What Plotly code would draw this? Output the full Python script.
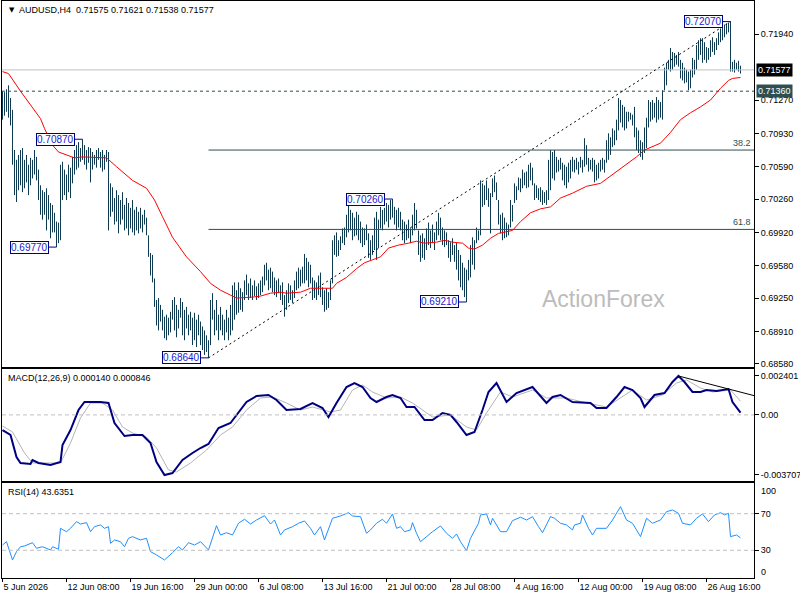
import plotly.graph_objects as go

symbol = "AUDUSD,H4"
last_ohlc = ["0.71575", "0.71621", "0.71538", "0.71577"]
last_close = 0.71577
level_price = 0.71360

# H4 bars, high / low
bar_high = [
    0.7136, 0.7135, 0.7138, 0.7142, 0.7129, 0.7117, 0.7076, 0.7066, 0.7071, 0.7076,
    0.7078, 0.7066, 0.7071, 0.7061, 0.7068, 0.7066, 0.7076, 0.7069, 0.7056, 0.7040,
    0.7035, 0.7033, 0.7037, 0.7030, 0.7022, 0.7020, 0.7012, 0.7003, 0.7002, 0.7061,
    0.7064, 0.7056, 0.7051, 0.7061, 0.7058, 0.7069, 0.7076, 0.7081, 0.7084, 0.7078,
    0.7087, 0.7081, 0.7076, 0.7079, 0.7078, 0.7074, 0.7071, 0.7076, 0.7078, 0.7074,
    0.7076, 0.7071, 0.7076, 0.7074, 0.7042, 0.7038, 0.7027, 0.7035, 0.7030, 0.7025,
    0.7033, 0.7020, 0.7027, 0.7022, 0.7017, 0.7025, 0.7015, 0.7018, 0.7013, 0.7017,
    0.7010, 0.7015, 0.7007, 0.6989, 0.6971, 0.6969, 0.6945, 0.6923, 0.6925, 0.6918,
    0.6913, 0.6906, 0.6908, 0.6905, 0.6911, 0.6923, 0.6926, 0.6918, 0.6913, 0.6925,
    0.6921, 0.6913, 0.6916, 0.6908, 0.6911, 0.6905, 0.6910, 0.6903, 0.6908, 0.6901,
    0.6896, 0.6892, 0.6887, 0.6882, 0.6923, 0.6930, 0.6913, 0.6923, 0.6908, 0.6916,
    0.6908, 0.6903, 0.6913, 0.6905, 0.6918, 0.6938, 0.6941, 0.6933, 0.6941, 0.6935,
    0.6931, 0.6943, 0.6949, 0.6940, 0.6945, 0.6938, 0.6943, 0.6937, 0.6940, 0.6943,
    0.6947, 0.6959, 0.6961, 0.6954, 0.6956, 0.6952, 0.6946, 0.6943, 0.6945, 0.6938,
    0.6941, 0.6928, 0.6933, 0.6940, 0.6938, 0.6933, 0.6943, 0.6952, 0.6956, 0.6954,
    0.6957, 0.6970, 0.6966, 0.6962, 0.6959, 0.6946, 0.6943, 0.6941, 0.6948, 0.6951,
    0.6936, 0.6933, 0.6935, 0.6931, 0.6943, 0.6984, 0.6989, 0.6992, 0.6984, 0.6988,
    0.6996, 0.6997, 0.7010, 0.7022, 0.7015, 0.7012, 0.7007, 0.7013, 0.7010, 0.7003,
    0.6997, 0.6996, 0.7000, 0.6991, 0.6984, 0.6989, 0.7007, 0.7013, 0.7005, 0.7018,
    0.7015, 0.7017, 0.7022, 0.7020, 0.7025, 0.7026, 0.7018, 0.7015, 0.7017, 0.7013,
    0.7005, 0.7003, 0.7000, 0.7005, 0.6996, 0.7010, 0.7022, 0.7015, 0.6994, 0.6989,
    0.6991, 0.6986, 0.6996, 0.7002, 0.6994, 0.7000, 0.6992, 0.7003, 0.7012, 0.7007,
    0.6997, 0.6994, 0.6992, 0.6984, 0.6982, 0.6986, 0.6979, 0.6981, 0.6974, 0.6969,
    0.6961, 0.6956, 0.6954, 0.6964, 0.6979, 0.6987, 0.6984, 0.6997, 0.6994, 0.7045,
    0.7042, 0.7040, 0.7045, 0.7037, 0.7032, 0.7047, 0.7050, 0.7043, 0.7025, 0.7010,
    0.7012, 0.7007, 0.7002, 0.7000, 0.7025, 0.7020, 0.7042, 0.7039, 0.7048, 0.7047,
    0.7056, 0.7053, 0.7054, 0.7061, 0.7063, 0.7058, 0.7042, 0.7040, 0.7037, 0.7038,
    0.7035, 0.7033, 0.7035, 0.7066, 0.7076, 0.7074, 0.7076, 0.7069, 0.7066, 0.7068,
    0.7063, 0.7061, 0.7059, 0.7063, 0.7066, 0.7069, 0.7066, 0.7068, 0.7064, 0.7069,
    0.7066, 0.7088, 0.7081, 0.7068, 0.7066, 0.7068, 0.7066, 0.7061, 0.7063, 0.7066,
    0.7068, 0.7066, 0.7086, 0.7093, 0.7089, 0.7098, 0.7096, 0.7107, 0.7129, 0.7127,
    0.7122, 0.7120, 0.7115, 0.7115, 0.7114, 0.7112, 0.7120, 0.7099, 0.7096, 0.7086,
    0.7084, 0.7099, 0.7109, 0.7127, 0.7125, 0.7127, 0.7124, 0.7130, 0.7127, 0.7125,
    0.7137, 0.7160, 0.7165, 0.7168, 0.7180, 0.7176, 0.7175, 0.7173, 0.7176, 0.7168,
    0.7165, 0.7160, 0.7158, 0.7156, 0.7158, 0.7170, 0.7168, 0.7183, 0.7188, 0.7190,
    0.7190, 0.7186, 0.7181, 0.7180, 0.7188, 0.7191, 0.7186, 0.7190, 0.7196, 0.7200,
    0.7202, 0.7204, 0.7205, 0.7206, 0.7207, 0.7166, 0.7168, 0.7165, 0.7167, 0.7162,
]
bar_low = [
    0.7107, 0.7111, 0.7115, 0.7109, 0.7101, 0.7061, 0.7030, 0.7023, 0.7035, 0.7040,
    0.7033, 0.7037, 0.7043, 0.7030, 0.7040, 0.7047, 0.7051, 0.7045, 0.7025, 0.7010,
    0.7005, 0.7010, 0.6994, 0.7005, 0.6986, 0.6992, 0.6992, 0.6977, 0.6981, 0.6984,
    0.7025, 0.7030, 0.7025, 0.7033, 0.7027, 0.7042, 0.7051, 0.7056, 0.7058, 0.7064,
    0.7066, 0.7061, 0.7056, 0.7063, 0.7043, 0.7056, 0.7061, 0.7058, 0.7066, 0.7058,
    0.7054, 0.7056, 0.7064, 0.6994, 0.7008, 0.7013, 0.7000, 0.7003, 0.6991, 0.7000,
    0.7005, 0.6994, 0.6996, 0.6989, 0.6996, 0.6992, 0.6989, 0.6994, 0.6991, 0.6996,
    0.6992, 0.7000, 0.6989, 0.6967, 0.6948, 0.6941, 0.6916, 0.6897, 0.6892, 0.6901,
    0.6892, 0.6884, 0.6882, 0.6887, 0.6890, 0.6903, 0.6892, 0.6885, 0.6894, 0.6905,
    0.6887, 0.6882, 0.6894, 0.6887, 0.6892, 0.6877, 0.6882, 0.6875, 0.6887, 0.6877,
    0.6872, 0.6867, 0.6870, 0.6864, 0.6877, 0.6903, 0.6887, 0.6892, 0.6882, 0.6892,
    0.6887, 0.6882, 0.6890, 0.6882, 0.6887, 0.6892, 0.6903, 0.6908, 0.6910, 0.6913,
    0.6911, 0.6923, 0.6928, 0.6923, 0.6925, 0.6923, 0.6927, 0.6923, 0.6925, 0.6928,
    0.6931, 0.6938, 0.6943, 0.6933, 0.6935, 0.6931, 0.6928, 0.6926, 0.6930, 0.6923,
    0.6918, 0.6906, 0.6913, 0.6920, 0.6923, 0.6920, 0.6925, 0.6933, 0.6935, 0.6937,
    0.6940, 0.6940, 0.6943, 0.6936, 0.6940, 0.6923, 0.6925, 0.6923, 0.6928, 0.6926,
    0.6918, 0.6911, 0.6913, 0.6915, 0.6923, 0.6940, 0.6969, 0.6967, 0.6968, 0.6974,
    0.6981, 0.6979, 0.6987, 0.6992, 0.6994, 0.6984, 0.6988, 0.6989, 0.6984, 0.6981,
    0.6977, 0.6979, 0.6984, 0.6966, 0.6964, 0.6969, 0.6974, 0.6964, 0.6976, 0.6996,
    0.6994, 0.7000, 0.7003, 0.6997, 0.7005, 0.7007, 0.7000, 0.6994, 0.6997, 0.6994,
    0.6984, 0.6981, 0.6984, 0.6986, 0.6981, 0.6989, 0.6994, 0.6996, 0.6969, 0.6962,
    0.6966, 0.6964, 0.6974, 0.6979, 0.6976, 0.6981, 0.6974, 0.6984, 0.6989, 0.6984,
    0.6979, 0.6977, 0.6979, 0.6966, 0.6962, 0.6969, 0.6962, 0.6954, 0.6943, 0.6936,
    0.6933, 0.6926, 0.6921, 0.6943, 0.6946, 0.6959, 0.6954, 0.6981, 0.6984, 0.6989,
    0.7018, 0.7020, 0.7025, 0.7018, 0.6991, 0.7028, 0.7033, 0.7025, 0.7000, 0.6991,
    0.6984, 0.6986, 0.6987, 0.6989, 0.6997, 0.7003, 0.7022, 0.7025, 0.7035, 0.7033,
    0.7037, 0.7040, 0.7037, 0.7038, 0.7045, 0.7040, 0.7025, 0.7027, 0.7025, 0.7023,
    0.7020, 0.7022, 0.7020, 0.7025, 0.7035, 0.7047, 0.7045, 0.7053, 0.7054, 0.7056,
    0.7045, 0.7040, 0.7037, 0.7043, 0.7047, 0.7054, 0.7053, 0.7056, 0.7051, 0.7058,
    0.7053, 0.7059, 0.7061, 0.7054, 0.7056, 0.7054, 0.7043, 0.7045, 0.7047, 0.7054,
    0.7056, 0.7053, 0.7063, 0.7066, 0.7071, 0.7079, 0.7081, 0.7086, 0.7096, 0.7104,
    0.7099, 0.7096, 0.7098, 0.7105, 0.7107, 0.7101, 0.7089, 0.7076, 0.7073, 0.7069,
    0.7066, 0.7073, 0.7078, 0.7099, 0.7105, 0.7107, 0.7109, 0.7104, 0.7107, 0.7109,
    0.7107, 0.7137, 0.7142, 0.7158, 0.7156, 0.7158, 0.7161, 0.7163, 0.7161, 0.7149,
    0.7147, 0.7144, 0.7145, 0.7137, 0.7139, 0.7150, 0.7153, 0.7158, 0.7168, 0.7173,
    0.7165, 0.7168, 0.7165, 0.7168, 0.7171, 0.7176, 0.7173, 0.7178, 0.7183, 0.7186,
    0.7188, 0.7191, 0.7194, 0.7196, 0.7156, 0.7156, 0.7155, 0.7158, 0.7156, 0.7154,
]

# moving average (red)
ma_idx = [0, 3, 9, 14, 19, 21, 25, 28, 36, 40, 52, 57, 65, 72, 76, 80, 85, 92, 99, 104,
          109, 114, 117, 125, 129, 134, 139, 142, 149, 154, 157, 162, 165, 167, 172, 177, 181, 185, 189, 193,
          198, 203, 207, 211, 217, 221, 225, 230, 233, 236, 240, 244, 248, 255, 259, 264, 269, 274, 279, 285,
          292, 299, 305, 310, 317, 321, 329, 334, 339, 344, 349, 354, 359, 363, 365, 369]
ma_val = [0.7156, 0.7154, 0.7136, 0.7122, 0.7108, 0.7098, 0.7081, 0.7074, 0.7068, 0.7069,
          0.7068, 0.7059, 0.7045, 0.7037, 0.7025, 0.7008, 0.6987, 0.6967, 0.6952, 0.6940,
          0.6933, 0.6928, 0.6925, 0.6926, 0.6927, 0.6930, 0.6931, 0.6930, 0.6931, 0.6935,
          0.6935, 0.6935, 0.6935, 0.6940, 0.6946, 0.6955, 0.6961, 0.6964, 0.6967, 0.6976,
          0.6979, 0.6981, 0.6983, 0.6981, 0.6982, 0.6984, 0.6982, 0.6981, 0.6976, 0.6975,
          0.6979, 0.6986, 0.6991, 0.6994, 0.7003, 0.7012, 0.7016, 0.7018, 0.7027, 0.7032,
          0.7039, 0.7042, 0.7051, 0.7059, 0.7069, 0.7076, 0.7083, 0.7094, 0.7107, 0.7114,
          0.7120, 0.7127, 0.7139, 0.7147, 0.7149, 0.7150]

# MACD(12,26,9)
macd_idx = [0, 4, 7, 9, 14, 15, 18, 24, 29, 30, 34, 38, 41, 45, 49, 53, 56, 61, 65, 70,
            74, 77, 81, 85, 90, 95, 99, 103, 108, 114, 118, 122, 127, 133, 137, 142, 149, 155, 160, 163,
            167, 172, 176, 180, 184, 187, 192, 195, 199, 202, 206, 211, 215, 220, 224, 227, 232, 236, 240, 243,
            247, 252, 257, 265, 272, 275, 279, 285, 294, 297, 302, 307, 311, 315, 319, 321, 326, 331, 335, 338,
            341, 345, 349, 352, 357, 363, 365, 367, 369]
macd_val = [-0.000932, -0.001240, -0.002598, -0.002968, -0.003029, -0.002783, -0.002968, -0.003091, -0.002906, -0.001857,
            -0.000932, 0.000302, 0.000796, 0.000796, 0.000796, 0.000734, -0.000500, -0.001302, -0.001240, -0.001240,
            -0.001734, -0.002906, -0.003707, -0.003585, -0.002783, -0.002351, -0.002042, -0.001795, -0.000808, -0.000500,
            0.000117, 0.000796, 0.001166, 0.001228, 0.000919, 0.000302, 0.000364, 0.000734, 0.000426, -0.000130,
            0.000734, 0.001721, 0.001968, 0.001721, 0.001043, 0.000796, 0.001104, 0.001228, 0.001043, 0.000487,
            0.000487, -0.000315, -0.000315, 0.000117, 0.000000, -0.000438, -0.001240, -0.001055, 0.000302, 0.001413,
            0.001968, 0.000796, 0.001351, 0.001721, 0.000734, 0.001104, 0.001228, 0.000796, 0.000734, 0.000426,
            0.000426, 0.001104, 0.001721, 0.001536, 0.001043, 0.000487, 0.001228, 0.001351, 0.002030, 0.002401,
            0.002030, 0.001413, 0.001413, 0.001536, 0.001475, 0.001598, 0.000796, 0.000487, 0.000140]
sig_idx = [0, 5, 11, 15, 24, 29, 34, 39, 44, 50, 55, 60, 65, 72, 77, 83, 87, 94, 102, 109,
           115, 122, 129, 135, 142, 149, 155, 164, 169, 175, 180, 185, 192, 199, 205, 215, 224, 232, 237, 242,
           249, 255, 265, 272, 282, 292, 302, 309, 315, 322, 330, 337, 342, 349, 355, 364, 369]
sig_val = [-0.000685, -0.001055, -0.002351, -0.002968, -0.002968, -0.002968, -0.001734, -0.000185, 0.000734, 0.000734,
           0.000302, -0.000747, -0.001117, -0.001364, -0.002042, -0.003400, -0.003523, -0.002968, -0.002166, -0.001240,
           -0.000747, 0.000302, 0.001043, 0.001104, 0.000734, 0.000302, 0.000487, 0.000179, 0.000302, 0.001536,
           0.001845, 0.001413, 0.001043, 0.001104, 0.000734, -0.000130, -0.000006, -0.000747, -0.000932, 0.000117,
           0.001413, 0.001104, 0.001536, 0.001043, 0.001043, 0.000734, 0.000487, 0.001043, 0.001536, 0.000919,
           0.001228, 0.001968, 0.002153, 0.001660, 0.001413, 0.001536, 0.000846]

# RSI(14)
rsi_idx = [0, 2, 5, 7, 9, 11, 15, 17, 20, 24, 25, 28, 29, 32, 34, 37, 39, 42, 44, 46,
           49, 51, 53, 54, 56, 59, 61, 63, 65, 69, 72, 74, 77, 81, 85, 88, 90, 93, 96, 99,
           103, 107, 109, 112, 115, 118, 121, 124, 127, 131, 134, 136, 139, 141, 145, 148, 151, 154, 156, 159,
           161, 165, 169, 173, 175, 179, 182, 184, 187, 190, 192, 195, 197, 199, 201, 204, 205, 207, 209, 212,
           215, 219, 222, 225, 227, 229, 232, 234, 238, 239, 242, 244, 245, 249, 252, 255, 259, 262, 265, 268,
           270, 274, 276, 279, 282, 285, 286, 289, 290, 293, 295, 297, 302, 305, 309, 312, 315, 319, 322, 325,
           329, 332, 335, 338, 340, 344, 347, 350, 353, 356, 359, 361, 363, 364, 367, 369]
rsi_val = [35.8, 39.4, 19.4, 28.5, 33.9, 34.7, 38.3, 32.2, 33.9, 30.3,
           33.9, 31.1, 54.0, 50.3, 54.0, 61.3, 58.7, 60.2, 50.3, 55.8,
           57.7, 54.0, 55.8, 37.6, 41.3, 39.4, 33.9, 43.1, 44.9, 41.3,
           43.1, 28.5, 24.9, 19.4, 27.4, 33.9, 30.3, 38.3, 35.8, 39.4,
           30.3, 56.9, 46.7, 49.2, 46.7, 59.5, 63.9, 58.7, 63.1, 67.8,
           58.7, 63.1, 46.7, 52.2, 55.8, 59.5, 62.0, 54.0, 46.7, 55.8,
           41.3, 65.0, 67.5, 71.1, 67.5, 66.7, 48.6, 52.2, 59.5, 63.9,
           59.5, 69.7, 54.0, 55.8, 50.3, 52.2, 60.2, 48.6, 39.4, 44.9,
           50.3, 56.6, 48.6, 43.1, 47.8, 39.4, 29.6, 43.1, 59.5, 68.6,
           69.7, 57.7, 65.0, 50.3, 50.3, 62.4, 66.1, 63.1, 66.7, 55.8,
           49.2, 66.7, 65.0, 59.5, 57.7, 52.2, 57.7, 59.5, 68.6, 54.0,
           46.7, 54.0, 54.0, 63.1, 77.7, 63.1, 59.5, 44.9, 65.0, 59.5,
           63.1, 72.2, 74.0, 70.4, 59.5, 57.7, 65.0, 69.7, 61.3, 68.6,
           71.1, 68.6, 70.4, 44.9, 46.7, 43.6]

# labelled swing points
swing_idx = [40, 27, 103, 195, 232, 364]
swing_val = [0.70870, 0.69770, 0.68640, 0.70260, 0.69210, 0.72070]

date_idx = [0, 32, 64, 96, 128, 160, 192, 224, 256, 288, 320, 352]
date_text = ["5 Jun 2026", "12 Jun 08:00", "19 Jun 16:00", "29 Jun 00:00", "6 Jul 08:00", "13 Jul 16:00",
             "21 Jul 00:00", "28 Jul 08:00", "4 Aug 16:00", "12 Aug 00:00", "19 Aug 08:00", "26 Aug 16:00"]

price_ticks = [0.71940, 0.71270, 0.70930, 0.70590, 0.70260, 0.69920, 0.69580, 0.69250, 0.68910, 0.68580]
macd_ticks = [0.002401, 0.0, -0.003707]
macd_labels = ["0.002401", "0.00", "-0.003707"]
rsi_levels = [30, 70]
fib_levels = [38.2, 61.8]

FONT = "Liberation Sans, Arial, sans-serif"
BAR = "#0e3a52"
SLATE = "#2f4f4f"
NAVY = "#000080"

# page geometry
ML, MR, MT, MB = 2, 46, 1, 22
PW, PH = 800 - ML - MR, 600 - MT - MB
x_range = [-0.25, 375.75]


def px_x(p):
    return (p - ML) / PW


def px_y(p):
    return (600 - MB - p) / PH


bx, by = [], []
for i, (h, l) in enumerate(zip(bar_high, bar_low)):
    bx += [i, i, None]
    by += [l, h, None]

fig = go.Figure()
fig.add_trace(go.Scatter(x=bx, y=by, mode="lines", line=dict(color=BAR, width=1),
                         xaxis="x", yaxis="y"))
fig.add_trace(go.Scatter(x=ma_idx, y=ma_val, mode="lines", line=dict(color="#ff0000", width=1),
                         xaxis="x", yaxis="y"))
fig.add_trace(go.Scatter(x=sig_idx, y=sig_val, mode="lines", line=dict(color="#b4b4b4", width=1),
                         xaxis="x2", yaxis="y2"))
fig.add_trace(go.Scatter(x=macd_idx, y=macd_val, mode="lines", line=dict(color=NAVY, width=2),
                         xaxis="x2", yaxis="y2"))
fig.add_trace(go.Scatter(x=rsi_idx, y=rsi_val, mode="lines", line=dict(color="#1e90ff", width=1),
                         xaxis="x3", yaxis="y3"))

shapes = []
# bid line and support level
shapes.append(dict(type="line", xref="x domain", x0=0, x1=1, yref="y", y0=last_close, y1=last_close,
                   line=dict(color="#c0c0c0", width=1)))
shapes.append(dict(type="line", xref="x domain", x0=0, x1=1, yref="y", y0=level_price, y1=level_price,
                   line=dict(color=SLATE, width=1, dash="3px,3px")))

# fibonacci retracement of the 0.6864 -> 0.7207 rise
lo_i, hi_i = swing_idx[2], swing_idx[5]
lo_v, hi_v = swing_val[2], swing_val[5]
fib_prices = [hi_v - f / 100 * (hi_v - lo_v) for f in fib_levels]
for fp in fib_prices:
    shapes.append(dict(type="line", xref="x", x0=lo_i, x1=x_range[1], yref="y", y0=fp, y1=fp,
                       line=dict(color=SLATE, width=1)))

# rising channel line
shapes.append(dict(type="line", xref="x", x0=lo_i, x1=hi_i, yref="y", y0=lo_v, y1=hi_v,
                   line=dict(color="black", width=1, dash="2px,3px")))

# leader lines for swing labels
for si, sv in zip(swing_idx, swing_val):
    shapes.append(dict(type="line", xref="x", x0=si - 4, x1=si, yref="y", y0=sv, y1=sv,
                       line=dict(color=NAVY, width=1)))

# indicator levels
shapes.append(dict(type="line", xref="x2 domain", x0=0, x1=1, yref="y2", y0=0, y1=0,
                   line=dict(color="#c0c0c0", width=1, dash="4px,3px")))
for lv in rsi_levels:
    shapes.append(dict(type="line", xref="x3 domain", x0=0, x1=1, yref="y3", y0=lv, y1=lv,
                       line=dict(color="#c0c0c0", width=1, dash="4px,3px")))

# MACD divergence trend line through the two last peaks
p1, p2 = macd_idx.index(338), macd_idx.index(363)
slope = (macd_val[p2] - macd_val[p1]) / (macd_idx[p2] - macd_idx[p1])
shapes.append(dict(type="line", xref="x2", x0=macd_idx[p1], x1=x_range[1], yref="y2",
                   y0=macd_val[p1], y1=macd_val[p1] + slope * (x_range[1] - macd_idx[p1]),
                   line=dict(color="black", width=1)))

ann = []
ann.append(dict(text="▼", xref="paper", yref="paper", x=px_x(7), y=px_y(10), xanchor="left", yanchor="middle",
                showarrow=False, font=dict(family="DejaVu Sans", size=7, color="black")))
ann.append(dict(text=symbol + "\u00a0\u00a0" + " ".join(last_ohlc), xref="paper", yref="paper",
                x=px_x(17), y=px_y(10), xanchor="left", yanchor="middle", showarrow=False,
                font=dict(family=FONT, size=9, color="black")))
ann.append(dict(text="MACD(12,26,9) %.6f %.6f" % (macd_val[-1], sig_val[-1]), xref="paper", yref="paper",
                x=px_x(6), y=px_y(378), xanchor="left", yanchor="middle", showarrow=False,
                font=dict(family=FONT, size=9, color="black")))
ann.append(dict(text="RSI(14) 43.6351", xref="paper", yref="paper",
                x=px_x(6), y=px_y(492), xanchor="left", yanchor="middle", showarrow=False,
                font=dict(family=FONT, size=9, color="black")))
ann.append(dict(text="ActionForex", xref="paper", yref="paper", x=px_x(603), y=px_y(299),
                xanchor="center", yanchor="middle", showarrow=False,
                font=dict(family=FONT, size=23, color="#bcbcbc")))
for si, sv in zip(swing_idx, swing_val):
    ann.append(dict(text="%.5f" % sv, xref="x", yref="y", x=si - 4, y=sv, xanchor="right", yanchor="middle",
                    showarrow=False, bgcolor="white", bordercolor=NAVY, borderwidth=1, borderpad=0,
                    font=dict(family=FONT, size=10, color="#1a1acd")))
for f, fp in zip(fib_levels, fib_prices):
    ann.append(dict(text="%.1f" % f, xref="paper", yref="y", x=px_x(753), y=fp, xanchor="right",
                    yanchor="bottom", showarrow=False, font=dict(family=FONT, size=9, color=SLATE)))
ann.append(dict(text="%.5f" % level_price, xref="paper", yref="y", x=px_x(756), y=level_price,
                xanchor="left", yanchor="middle", showarrow=False, bgcolor=SLATE, borderpad=1,
                font=dict(family=FONT, size=9, color="white")))
ann.append(dict(text="%.5f" % last_close, xref="paper", yref="y", x=px_x(756), y=last_close,
                xanchor="left", yanchor="middle", showarrow=False, bgcolor="black", borderpad=1,
                font=dict(family=FONT, size=9, color="white")))
ann.append(dict(text="100", xref="paper", yref="paper", x=px_x(759), y=px_y(491), xanchor="left",
                yanchor="middle", showarrow=False, font=dict(family=FONT, size=9, color="black")))
ann.append(dict(text="0", xref="paper", yref="paper", x=px_x(759), y=px_y(572), xanchor="left",
                yanchor="middle", showarrow=False, font=dict(family=FONT, size=9, color="black")))

tickfont = dict(family=FONT, size=9, color="black")
xcommon = dict(range=x_range, showline=True, mirror=True, linecolor="black", linewidth=1,
               showgrid=False, zeroline=False)
ycommon = dict(side="right", showline=True, mirror=True, linecolor="black", linewidth=1,
               showgrid=False, zeroline=False, ticks="outside", ticklen=4, tickcolor="black",
               tickfont=tickfont)

fig.update_layout(
    width=800, height=600,
    margin=dict(l=ML, r=MR, t=MT, b=MB, autoexpand=False),
    paper_bgcolor="white", plot_bgcolor="white",
    showlegend=False, hovermode=False,
    shapes=shapes, annotations=ann,
    xaxis=dict(anchor="y", showticklabels=False, **xcommon),
    xaxis2=dict(anchor="y2", matches="x", showticklabels=False, **xcommon),
    xaxis3=dict(anchor="y3", matches="x", tickmode="array", tickvals=date_idx, ticktext=date_text,
                ticks="outside", ticklen=3, tickcolor="black", ticklabelposition="outside right",
                tickfont=tickfont, **xcommon),
    yaxis=dict(domain=[px_y(366.5), 1], anchor="x", range=[0.68552, 0.72280], tickmode="array",
               tickvals=price_ticks, ticktext=["%.5f" % t for t in price_ticks], **ycommon),
    yaxis2=dict(domain=[px_y(480.7), px_y(369.3)], anchor="x2", range=[-0.00406, 0.002814],
                tickmode="array", tickvals=macd_ticks, ticktext=macd_labels, **ycommon),
    yaxis3=dict(domain=[0, px_y(483.3)], anchor="x3", range=[-0.3, 103.2], tickmode="array",
                tickvals=rsi_levels, ticktext=[str(v) for v in rsi_levels], **ycommon),
)

# the page body has a default 8px margin; drop it so the chart sits at the window corner
fig.write_html("out.html", config={"displayModeBar": False},
               post_script="document.body.style.margin='0';")
